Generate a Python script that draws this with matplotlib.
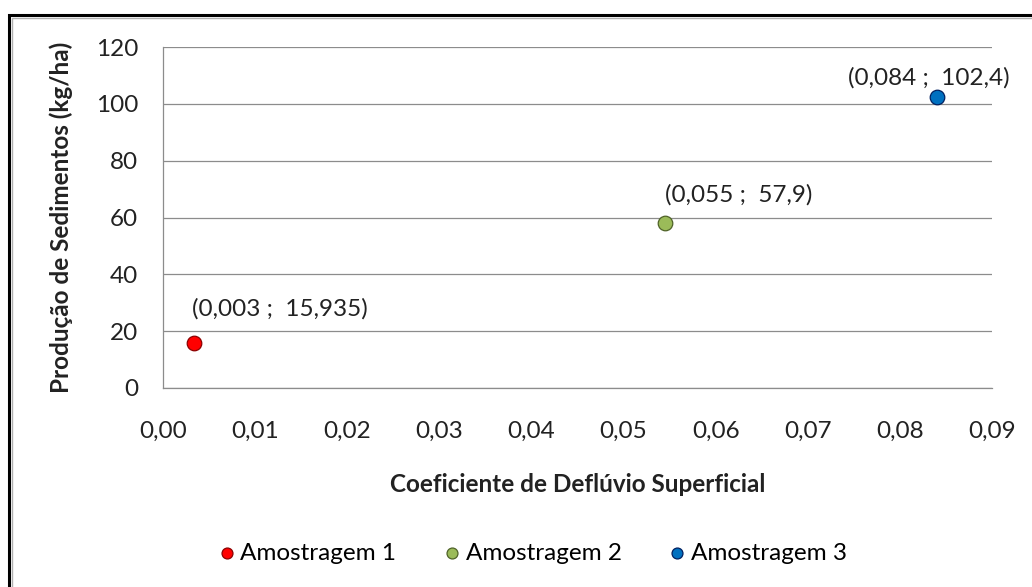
import matplotlib

matplotlib.use("Agg")
import matplotlib.pyplot as plt
from matplotlib.patches import Rectangle
from matplotlib.ticker import FuncFormatter

plt.rcParams["font.family"] = ["Lato", "DejaVu Sans"]

series_names = ["Amostragem 1", "Amostragem 2", "Amostragem 3"]
coef_x = [0.0034, 0.0545, 0.084]
sed_y = [15.935, 57.9, 102.4]
point_labels = ["(0,003 ;  15,935)", "(0,055 ;  57,9)", "(0,084 ;  102,4)"]
colors = ["#FF0000", "#9BBB59", "#0070C0"]
edges = ["#8B0000", "#4F6228", "#002060"]
label_offsets = [(-2, 17), (0, 13), (-64, 6)]

x_ticks = [0.00, 0.01, 0.02, 0.03, 0.04, 0.05, 0.06, 0.07, 0.08, 0.09]
y_ticks = [0, 20, 40, 60, 80, 100, 120]

FS = 17.5


def main():
    fig = plt.figure(figsize=(10.32, 5.87), dpi=100)
    ax = fig.add_axes([163 / 1032, 1 - 388 / 587, 829 / 1032, 341 / 587])

    for name, x, y, c, e, lab, off in zip(series_names, coef_x, sed_y, colors,
                                         edges, point_labels, label_offsets):
        ax.scatter([x], [y], s=110, color=c, edgecolors=e, linewidths=0.9,
                   zorder=3, label=name, clip_on=False)
        ax.annotate(lab, (x, y), xytext=off, textcoords="offset points",
                    fontsize=FS, color="#222222", ha="left", va="bottom")

    ax.set_xlim(0, 0.09)
    ax.set_ylim(0, 120)
    ax.set_xticks(x_ticks)
    ax.set_yticks(y_ticks)
    ax.xaxis.set_major_formatter(FuncFormatter(lambda v, p: f"{v:.2f}".replace(".", ",")))
    ax.tick_params(length=0, labelsize=FS, colors="#222222")
    ax.tick_params(axis="x", pad=24)
    ax.tick_params(axis="y", pad=18)
    ax.grid(axis="y", color="#8c8c8c", linewidth=0.9)
    ax.set_axisbelow(True)
    for side in ["top", "right"]:
        ax.spines[side].set_visible(False)
    for side in ["left", "bottom"]:
        ax.spines[side].set_color("#8c8c8c")
        ax.spines[side].set_linewidth(0.9)

    ax.set_xlabel("Coeficiente de Deflúvio Superficial", fontsize=FS,
                  fontweight="bold", labelpad=22, color="#222222")
    ax.set_ylabel("Produção de Sedimentos (kg/ha)", fontsize=FS,
                  fontweight="bold", labelpad=16, color="#222222")

    fig.legend(loc="center", bbox_to_anchor=(532 / 1032, 1 - 553 / 587), ncol=3,
               frameon=False, fontsize=FS, handletextpad=0.15, columnspacing=1.9,
               markerscale=0.75, handlelength=0.8)

    fig.patches.append(Rectangle((9 / 1032, -0.1), 1.1, 1 - 15 / 587 + 0.1,
                                 transform=fig.transFigure, fill=False,
                                 edgecolor="black", linewidth=2.2))
    fig.patches.append(Rectangle((12 / 1032, -0.1), 1.1, 1 - 18 / 587 + 0.1,
                                 transform=fig.transFigure, fill=False,
                                 edgecolor="#b0b0b0", linewidth=1.0))

    fig.savefig("out.png", dpi=100)


if __name__ == "__main__":
    main()
